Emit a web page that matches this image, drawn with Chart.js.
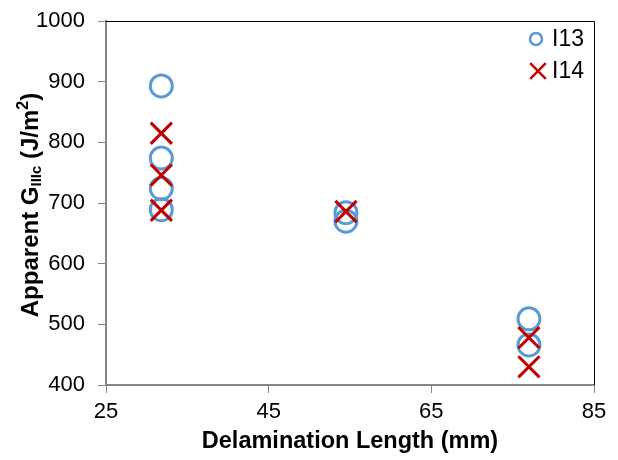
<!DOCTYPE html>
<html>
<head>
<meta charset="utf-8">
<script src="https://cdn.jsdelivr.net/npm/chart.js"></script>
<style>
  html, body { margin: 0; padding: 0; background: #fff; }
  #wrap { width: 618px; height: 460px; }
</style>
</head>
<body>
<div id="wrap"><canvas id="myChart" width="618" height="460"></canvas></div>
<script>
// data
const i13X = [31.8, 31.8, 31.8, 31.8, 54.5, 54.5, 77, 77];
const i13Y = [893, 774, 724, 689, 684, 670, 509, 466];
const i14X = [31.8, 31.8, 31.8, 54.5, 77, 77];
const i14Y = [815, 746, 688, 686, 478, 430];
const xTicks = [25, 45, 65, 85];
const yTicks = [400, 500, 600, 700, 800, 900, 1000];

const FONT = "'Liberation Sans', Arial, sans-serif";
const toPts = (xs, ys) => xs.map((x, i) => ({ x: x, y: ys[i] }));

// top + right frame, y title with sub/superscript, legend inside the plot
const extras = {
  id: 'extras',
  afterDraw(chart) {
    const ctx = chart.ctx;
    const a = chart.chartArea;
    ctx.save();
    ctx.strokeStyle = '#000';
    ctx.lineWidth = 1;
    ctx.beginPath();
    ctx.moveTo(a.left, a.top + 0.5);
    ctx.lineTo(a.right + 0.5, a.top + 0.5);
    ctx.lineTo(a.right + 0.5, a.bottom);
    ctx.stroke();

    // y axis title
    const parts = [
      { t: 'Apparent G', f: 'bold 24px ' + FONT, dy: 0 },
      { t: 'IIIc', f: 'bold 15px ' + FONT, dy: 6 },
      { t: ' (J/m', f: 'bold 24px ' + FONT, dy: 0 },
      { t: '2', f: 'bold 16px ' + FONT, dy: -7 },
      { t: ')', f: 'bold 24px ' + FONT, dy: 0 }
    ];
    let total = 0;
    parts.forEach(p => { ctx.font = p.f; p.w = ctx.measureText(p.t).width; total += p.w; });
    ctx.translate(31, (a.top + a.bottom) / 2 + 2);
    ctx.rotate(-Math.PI / 2);
    ctx.fillStyle = '#000';
    ctx.textBaseline = 'middle';
    ctx.textAlign = 'left';
    let x = -total / 2;
    parts.forEach(p => { ctx.font = p.f; ctx.fillText(p.t, x, p.dy); x += p.w; });
    ctx.restore();

    // legend
    ctx.save();
    const items = [
      { ds: chart.data.datasets[0], x: 536, y: 39, r: 6 },
      { ds: chart.data.datasets[1], x: 538, y: 71, r: 11 }
    ];
    items.forEach(it => {
      ctx.strokeStyle = it.ds.borderColor;
      ctx.fillStyle = 'rgba(0,0,0,0)';
      ctx.lineWidth = 2.5;
      Chart.helpers.drawPoint(ctx, {
        pointStyle: it.ds.pointStyle,
        radius: it.r,
        borderWidth: 2.5
      }, it.x, it.y);
      ctx.fillStyle = '#000';
      ctx.font = '23px ' + FONT;
      ctx.textBaseline = 'middle';
      ctx.textAlign = 'left';
      ctx.fillText(it.ds.label, 552, it.y + 1);
    });
    ctx.restore();
  }
};

new Chart(document.getElementById('myChart'), {
  type: 'scatter',
  data: {
    datasets: [
      {
        label: 'I13',
        data: toPts(i13X, i13Y),
        order: 2,
        pointStyle: 'circle',
        pointRadius: 11,
        pointBorderWidth: 3,
        borderColor: '#5B9BD5',
        backgroundColor: 'rgba(0,0,0,0)'
      },
      {
        label: 'I14',
        data: toPts(i14X, i14Y),
        order: 1,
        pointStyle: 'crossRot',
        pointRadius: 15,
        pointBorderWidth: 3,
        borderColor: '#C00000',
        backgroundColor: '#C00000'
      }
    ]
  },
  options: {
    responsive: false,
    animation: false,
    layout: { padding: { top: 21, right: 24, left: 0, bottom: 0 } },
    plugins: { legend: { display: false }, tooltip: { enabled: false } },
    scales: {
      x: {
        type: 'linear',
        min: 25, max: 85,
        afterBuildTicks: s => { s.ticks = xTicks.map(v => ({ value: v })); },
        afterFit: s => { s.height = 75; s.paddingLeft = 0; s.paddingRight = 0; },
        grid: { drawOnChartArea: false, tickLength: 8, color: '#868686', lineWidth: 1 },
        border: { color: '#868686', width: 2 },
        ticks: { color: '#000', font: { family: FONT, size: 22 }, padding: 6, maxRotation: 0 },
        title: {
          display: true,
          text: 'Delamination Length (mm)',
          color: '#000',
          font: { family: FONT, size: 23.5, weight: 'bold' },
          padding: { top: 0, bottom: 4 }
        }
      },
      y: {
        type: 'linear',
        min: 400, max: 1000,
        afterBuildTicks: s => { s.ticks = yTicks.map(v => ({ value: v })); },
        afterFit: s => { s.width = 106; s.paddingTop = 0; s.paddingBottom = 0; },
        grid: { drawOnChartArea: false, tickLength: 8, color: '#868686', lineWidth: 1 },
        border: { color: '#868686', width: 2 },
        ticks: {
          color: '#000', font: { family: FONT, size: 22 }, padding: 13,
          callback: v => String(v)
        }
      }
    }
  },
  plugins: [extras]
});
</script>
</body>
</html>
